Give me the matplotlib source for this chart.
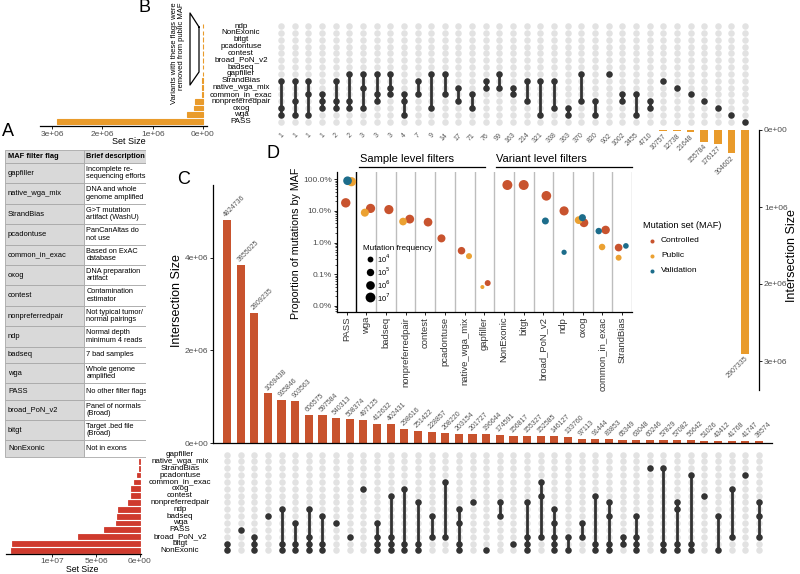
import numpy as np
import matplotlib
matplotlib.use("Agg")
import matplotlib.pyplot as plt
import matplotlib.transforms as mtransforms

plt.rcParams["font.family"] = ["Liberation Sans", "DejaVu Sans"]

W, H = 800, 574

# %% data ------------------------------------------------------------------

# B: public MAF upset (rows top -> bottom)
pub_sets = ["ndp", "NonExonic", "bitgt", "pcadontuse", "contest", "broad_PoN_v2",
            "badseq", "gapfiller", "StrandBias", "native_wga_mix", "common_in_exac",
            "nonpreferredpair", "oxog", "wga", "PASS"]
pub_set_size = [0, 0, 0, 0, 0, 0, 0, 1405, 11720, 13100, 25370,
                162900, 181600, 308600, 2907335]
pub_counts = [1, 1, 1, 1, 2, 2, 3, 3, 3, 4, 7, 9, 14, 17, 71, 76, 99, 163, 214,
              321, 338, 363, 370, 820, 902, 1002, 2455, 4710, 10757, 12738,
              21648, 155784, 176127, 304602, 2907335]
pub_members = [
    ["StrandBias", "oxog", "wga"],
    ["StrandBias", "nonpreferredpair", "wga"],
    ["StrandBias", "common_in_exac", "wga"],
    ["common_in_exac", "nonpreferredpair", "oxog"],
    ["StrandBias", "nonpreferredpair", "oxog"],
    ["gapfiller", "nonpreferredpair", "oxog"],
    ["gapfiller", "native_wga_mix", "oxog"],
    ["gapfiller", "common_in_exac", "nonpreferredpair"],
    ["gapfiller", "native_wga_mix", "common_in_exac"],
    ["common_in_exac", "nonpreferredpair", "wga"],
    ["StrandBias", "common_in_exac"],
    ["gapfiller", "oxog"],
    ["gapfiller", "common_in_exac"],
    ["native_wga_mix", "nonpreferredpair"],
    ["common_in_exac", "oxog"],
    ["StrandBias", "native_wga_mix"],
    ["gapfiller", "native_wga_mix"],
    ["native_wga_mix", "common_in_exac"],
    ["StrandBias", "nonpreferredpair"],
    ["StrandBias", "wga"],
    ["StrandBias", "oxog"],
    ["oxog", "wga"],
    ["gapfiller", "nonpreferredpair"],
    ["nonpreferredpair", "wga"],
    ["gapfiller"],
    ["common_in_exac", "nonpreferredpair"],
    ["common_in_exac", "wga"],
    ["nonpreferredpair", "oxog"],
    ["StrandBias"],
    ["native_wga_mix"],
    ["common_in_exac"],
    ["nonpreferredpair"],
    ["oxog"],
    ["wga"],
    ["PASS"],
]

# C: controlled MAF upset (rows top -> bottom)
ctl_sets = ["gapfiller", "native_wga_mix", "StrandBias", "pcadontuse", "common_in_exac",
            "oxog", "contest", "nonpreferredpair", "ndp", "badseq", "wga", "PASS",
            "broad_PoN_v2", "bitgt", "NonExonic"]
ctl_set_size = [12000, 125000, 160000, 310000, 680000, 1060000, 1000000, 1330000,
                2460000, 2580000, 2760000, 4090000, 7080000, 14500000, 14660000]
ctl_counts = [4824736, 3855025, 2809235, 1069438, 935846, 903563, 606575, 597584,
              540313, 508374, 497125, 412632, 402431, 298616, 251422, 228857,
              208220, 203154, 201727, 196644, 174591, 156817, 155327, 152585,
              146127, 133760, 97113, 91444, 83853, 65349, 63048, 60246, 57829,
              57082, 56642, 51026, 43412, 41768, 41747, 38574]
BI, NE, BR = "bitgt", "NonExonic", "broad_PoN_v2"
ctl_members = [
    [BI, NE], ["PASS"], [BR, BI, NE], ["badseq"], ["ndp", BI, NE],
    ["wga", BI, NE], ["ndp", BR, BI, NE], ["badseq", BI, NE], ["wga"], [BR],
    ["oxog"], ["wga", BR, BI, NE], ["contest", BR, BI, NE], ["oxog", BI, NE],
    ["nonpreferredpair", BI, NE], ["badseq", BR], ["common_in_exac", BR],
    ["ndp", "wga", BI, NE], ["nonpreferredpair"], [NE],
    ["nonpreferredpair", "badseq"], [BI], ["nonpreferredpair", BR, BI, NE],
    ["common_in_exac", "contest", BR], ["ndp", "wga", BR, BI, NE], [BR, NE],
    ["wga", BR], ["contest", BI, NE], ["nonpreferredpair", "badseq", BI, NE],
    [BR, BI], ["badseq", BR, BI, NE], ["StrandBias"], ["StrandBias", BI, NE],
    ["nonpreferredpair", "ndp", BI, NE], ["pcadontuse", BI, NE], ["contest"],
    ["badseq", NE], ["oxog", BR], ["pcadontuse"], ["nonpreferredpair", "badseq", BR],
]

# A: filter descriptions
flag_names = ["gapfiller", "native_wga_mix", "StrandBias", "pcadontuse", "common_in_exac",
              "oxog", "contest", "nonpreferredpair", "ndp", "badseq", "wga", "PASS",
              "broad_PoN_v2", "bitgt", "NonExonic"]
flag_desc = ["Incomplete re-\nsequencing efforts", "DNA and whole\ngenome amplified",
             "G>T mutation\nartifact (WashU)", "PanCanAltas do\nnot use",
             "Based on ExAC\ndatabase", "DNA preparation\nartifact",
             "Contamination\nestimator", "Not typical tumor/\nnormal pairings",
             "Normal depth\nminimum 4 reads", "7 bad samples", "Whole genome\namplified",
             "No other filter flags", "Panel of normals\n(Broad)",
             "Target .bed file\n(Broad)", "Not in exons"]

# D: proportion of mutations by MAF
d_cats = ["PASS", "wga", "badseq", "nonpreferredpair", "contest", "pcadontuse",
          "native_wga_mix", "gapfiller", "NonExonic", "bitgt", "broad_PoN_v2", "ndp",
          "oxog", "common_in_exac", "StrandBias"]
ctl_prop = [0.18, 0.12, 0.11, 0.055, 0.044, 0.0135, 0.0055, 0.00052, 0.66, 0.66,
            0.30, 0.10, 0.042, 0.025, 0.0069]
ctl_jit = [-0.04, 0.22, 0.15, 0.21, 0.14, -0.18, -0.16, 0.17, 0.17, 0.0, 0.15,
           0.05, 0.06, 0.16, -0.18]
pub_cats_d = ["PASS", "wga", "nonpreferredpair", "native_wga_mix", "gapfiller",
              "oxog", "common_in_exac", "StrandBias"]
pub_prop = [0.84, 0.088, 0.046, 0.0037, 0.00039, 0.051, 0.0072, 0.0033]
pub_jit = [0.25, -0.07, -0.13, 0.22, -0.1, -0.21, -0.02, -0.18]
val_cats = ["PASS", "broad_PoN_v2", "ndp", "oxog", "common_in_exac", "StrandBias"]
val_prop = [0.9, 0.048, 0.0049, 0.061, 0.023, 0.0078]
val_n = [940000, 50000, 5000, 63000, 24000, 8100]
val_jit = [0.05, 0.1, 0.05, -0.02, -0.19, 0.19]
freq_levels = [1e4, 1e5, 1e6, 1e7]

# %% style -----------------------------------------------------------------
ORANGE = "#E99B2B"
CTRL = "#C8532E"
PUB = "#EBA132"
VALID = "#1D6D8B"
SETRED = "#CF3A2D"
DARK = "#333333"
LIGHT = "#E2E2E2"
GREYTXT = "#4D4D4D"

fig = plt.figure(figsize=(W / 100, H / 100), dpi=100)


def add_ax(x0, y0, x1, y1):
    return fig.add_axes([x0 / W, 1 - y1 / H, (x1 - x0) / W, (y1 - y0) / H])


def span(a, b, p0, step):
    # data values at pixels a, b when pixel = p0 + step * value
    return (a - p0) / step, (b - p0) / step


def clean(ax, keep=()):
    for k, sp in ax.spines.items():
        sp.set_visible(k in keep)
        sp.set_linewidth(0.9)
        sp.set_color("black")
    ax.set_facecolor("none")
    ax.tick_params(labelsize=6, labelcolor=GREYTXT, length=2, width=0.6, pad=1.5)


def draw_matrix(ax, sets, members):
    gx, gy = np.meshgrid(np.arange(len(members)), np.arange(len(sets)))
    ax.scatter(gx.ravel(), gy.ravel(), s=22, color=LIGHT, lw=0, zorder=1)
    for j, mem in enumerate(members):
        rows = [sets.index(m) for m in mem]
        if len(rows) > 1:
            ax.plot([j, j], [min(rows), max(rows)], color=DARK, lw=2, zorder=2)
        ax.scatter([j] * len(rows), rows, s=22, color=DARK, lw=0, zorder=3)
    clean(ax)
    ax.set_xticks([])
    ax.set_yticks([])


def row_labels(ax, sets, x_px):
    tr = mtransforms.blended_transform_factory(fig.transFigure, ax.transData)
    for i, name in enumerate(sets):
        ax.text(x_px / W, i, name, transform=tr, ha="center", va="center",
                fontsize=5.8, color="black")


def sci(v):
    return "0e+00" if v == 0 else f"{v:.0e}"


# %% B: public MAF -----------------------------------------------------------
ax_tm = add_ax(274, 20, 760, 126)
ax_tm.set_xlim(*span(274, 760, 281, 13.65))
ax_tm.set_ylim(*span(126, 20, 26.1, 6.83))
draw_matrix(ax_tm, pub_sets, pub_members)
row_labels(ax_tm, pub_sets, 241)

ax_ts = add_ax(40, 20, 207, 126)
ax_ts.set_xlim(*span(40, 207, 203, -151 / 3e6))
ax_ts.set_ylim(*span(126, 20, 26.1, 6.83))
ax_ts.barh(range(len(pub_sets)), pub_set_size, height=0.7, color=ORANGE,
           edgecolor=ORANGE, lw=0.8)
clean(ax_ts, ("bottom",))
ticks = [3e6, 2e6, 1e6, 0]
ax_ts.set_xticks(ticks, [sci(t) for t in ticks])
ax_ts.set_yticks([])

ax_tb = add_ax(274, 130, 759, 390)
ax_tb.set_xlim(*span(274, 759, 281, 13.65))
ax_tb.set_ylim(*span(390, 130, 130, 77e-6))
ax_tb.bar(range(len(pub_counts)), pub_counts, width=0.56, color=ORANGE)
clean(ax_tb, ("right",))
ax_tb.yaxis.tick_right()
ticks = [0, 1e6, 2e6, 3e6]
ax_tb.set_yticks(ticks, [sci(t) for t in ticks])
ax_tb.set_xticks([])
lab_tr = mtransforms.offset_copy(ax_tb.transData, fig, x=2, y=-4, units="dots")
for j, v in enumerate(pub_counts):
    ax_tb.text(j, v, str(v), transform=lab_tr, rotation=45, ha="right", va="center",
               rotation_mode="anchor", fontsize=5, color="#555555")

# %% C: controlled MAF ------------------------------------------------------
ax_cb = add_ax(213, 185, 772, 443)
ax_cb.set_xlim(*span(213, 772, 227, 13.64))
ax_cb.set_ylim(*span(443, 185, 443, -46.3e-6))
ax_cb.bar(range(len(ctl_counts)), ctl_counts, width=0.6, color=CTRL)
clean(ax_cb, ("left", "bottom"))
ticks = [0, 2e6, 4e6]
ax_cb.set_yticks(ticks, [sci(t) for t in ticks])
ax_cb.set_xticks([])
lab_tr = mtransforms.offset_copy(ax_cb.transData, fig, x=-2, y=4, units="dots")
for j, v in enumerate(ctl_counts):
    ax_cb.text(j, v, str(v), transform=lab_tr, rotation=45, ha="left", va="center",
               rotation_mode="anchor", fontsize=5, color="#555555")

ax_bm = add_ax(213, 450, 772, 555)
ax_bm.set_xlim(*span(213, 772, 227, 13.64))
ax_bm.set_ylim(*span(555, 450, 454.5, 6.85))
draw_matrix(ax_bm, ctl_sets, ctl_members)
row_labels(ax_bm, ctl_sets, 180)

ax_bs = add_ax(6, 450, 141, 554)
ax_bs.set_xlim(*span(6, 141, 140, -8.8e-6))
ax_bs.set_ylim(*span(554, 450, 454.5, 6.85))
ax_bs.barh(range(len(ctl_sets)), ctl_set_size, height=0.7, color=SETRED,
           edgecolor=SETRED, lw=0.6)
clean(ax_bs, ("bottom",))
ax_bs.tick_params(pad=1)
ticks = [1e7, 5e6, 0]
ax_bs.set_xticks(ticks, [sci(t) for t in ticks])
ax_bs.set_yticks([])

# %% A: table ---------------------------------------------------------------
ax_a = add_ax(5, 150, 146, 458)
ax_a.set_xlim(0, 141)
ax_a.set_ylim(308, 0)
ax_a.axis("off")
split = 79
heights = [13] + [20.4 if "\n" in d else 16.3 for d in flag_desc]
rows_txt = [("MAF filter flag", "Brief description")] + list(zip(flag_names, flag_desc))
y = 0
for k, (h, (name, desc)) in enumerate(zip(heights, rows_txt)):
    ax_a.add_patch(plt.Rectangle((0, y), split, h, fc="#D9D9D9", ec="#A8A8A8", lw=0.6))
    ax_a.add_patch(plt.Rectangle((split, y), 141 - split, h,
                                 fc="#D9D9D9" if k == 0 else "white", ec="#A8A8A8", lw=0.6))
    w = "bold" if k == 0 else "normal"
    ax_a.text(3, y + h / 2, name, ha="left", va="center", fontsize=5.4, weight=w)
    ax_a.text(split + 2.5, y + h / 2, desc, ha="left", va="center", fontsize=5.3,
              weight=w, linespacing=1.05, clip_on=True)
    y += h

# %% D: proportions ---------------------------------------------------------
ax_d = add_ax(336.7, 172, 632, 312)
ax_d.set_yscale("log")
ax_d.set_xlim(-0.5, len(d_cats) - 0.5)
ax_d.set_ylim(10 ** (-(312 - 179.3) / 31.6), 10 ** ((179.3 - 172) / 31.6))
clean(ax_d, ("left", "bottom"))
ax_d.axvline(0.5, color="black", lw=1)
for b in np.arange(1.5, len(d_cats) - 0.5):
    ax_d.axvline(b, color="#BDBDBD", lw=1, zorder=0)
ax_d.axvline(len(d_cats) - 0.5, color="#BDBDBD", lw=1, zorder=0)


def dot_s(n):
    return 0.5184 * 20.8 * (np.log10(n) - 2.37)


d_idx = {c: i for i, c in enumerate(d_cats)}
ctl_size = dict(zip(ctl_sets, ctl_set_size))
pub_size = dict(zip(pub_sets, pub_set_size))
series = [
    (d_cats, ctl_prop, ctl_jit, [ctl_size[c] for c in d_cats], CTRL),
    (pub_cats_d, pub_prop, pub_jit, [pub_size[c] for c in pub_cats_d], PUB),
    (val_cats, val_prop, val_jit, val_n, VALID),
]
for cats, props, jit, ns, col in series:
    xs = [d_idx[c] + j for c, j in zip(cats, jit)]
    ax_d.scatter(xs, props, s=[dot_s(n) for n in ns], color=col, lw=0, zorder=3)

ax_d.set_xticks(range(len(d_cats)), d_cats, rotation=90, fontsize=6.8, color="#333333")
ax_d.set_yticks([1e-4, 1e-3, 1e-2, 1e-1, 1], ["0.0%", "0.1%", "1.0%", "10.0%", "100.0%"])
ax_d.tick_params(axis="y", which="minor", length=1.5, width=0.5)
ax_d.yaxis.set_minor_formatter(plt.NullFormatter())

# %% overlay: titles, legends, annotations -----------------------------------
ov = fig.add_axes([0, 0, 1, 1])
ov.set_xlim(0, W)
ov.set_ylim(H, 0)
ov.axis("off")

for lab, x, yy in [("A", 8, 131), ("B", 145, 8), ("C", 184, 179), ("D", 273, 153)]:
    ov.text(x, yy, lab, fontsize=13, ha="center", va="center")

ov.text(129, 142, "Set Size", fontsize=6.5, ha="center", va="center")
ov.text(82, 569.5, "Set Size", fontsize=6.3, ha="center", va="center")
ov.text(792, 256, "Intersection Size", fontsize=9, rotation=90, ha="center", va="center")
ov.text(177, 301, "Intersection Size", fontsize=9, rotation=90, ha="center", va="center")
ov.text(296, 243, "Proportion of mutations by MAF", fontsize=7.7, rotation=90,
        ha="center", va="center")

ov.plot([199, 190, 190, 199, 199], [27, 13, 85, 72, 27], color="black", lw=0.9)
ov.text(178, 53, "Variants with these flags were\nremoved from public MAF", rotation=90,
        ha="center", va="center", fontsize=5.5, multialignment="right", linespacing=1.1)

ov.plot([359, 485], [166.5, 166.5], color="black", lw=0.9)
ov.plot([496, 632], [166.5, 166.5], color="black", lw=0.9)
ov.text(360, 164, "Sample level filters", fontsize=8, ha="left", va="bottom")
ov.text(496, 164, "Variant level filters", fontsize=8, ha="left", va="bottom")

ov.text(363, 248, "Mutation frequency", fontsize=5.9, ha="left", va="center")
for k, lvl in enumerate(freq_levels):
    yy = 259 + 12.8 * k
    ov.scatter([370], [yy], s=dot_s(lvl), color="black", lw=0)
    ov.text(377, yy, f"10$^{{{int(np.log10(lvl))}}}$", fontsize=5.5, ha="left", va="center")

ov.text(643, 226, "Mutation set (MAF)", fontsize=6.6, ha="left", va="center")
for k, (name, col) in enumerate([("Controlled", CTRL), ("Public", PUB), ("Validation", VALID)]):
    yy = 240.5 + 15 * k
    ov.scatter([652], [yy], s=8.5, color=col, lw=0)
    ov.text(661, yy, name, fontsize=6, ha="left", va="center")

fig.savefig("out.png", dpi=100)
